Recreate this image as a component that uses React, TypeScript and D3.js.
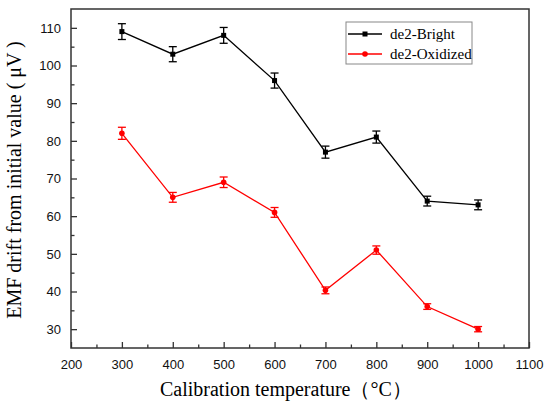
import { useEffect, useRef } from "react";
import * as d3 from "d3";

// Calibration temperatures (°C)
const temperatures = [300, 400, 500, 600, 700, 800, 900, 1000];

// EMF drift from initial value (µV), with error bar half-widths
const brightValues = [109, 103, 108, 96, 77, 81, 64, 63];
const brightErrors = [2.1, 2, 2.1, 2, 1.6, 1.6, 1.3, 1.3];
const oxidizedValues = [82, 65, 69, 61, 40.3, 51, 36, 30];
const oxidizedErrors = [1.6, 1.3, 1.4, 1.3, 0.9, 1.1, 0.75, 0.7];

const xTicks = [200, 300, 400, 500, 600, 700, 800, 900, 1000, 1100];
const yTicks = [30, 40, 50, 60, 70, 80, 90, 100, 110];

const seriesList = [
  { name: "de2-Bright", color: "#000000", values: brightValues, errors: brightErrors, marker: "square" },
  { name: "de2-Oxidized", color: "#ff0000", values: oxidizedValues, errors: oxidizedErrors, marker: "circle" },
];

const W = 550;
const H = 407;
const margin = { top: 9, right: 21, bottom: 59, left: 71 };
const SERIF = "'Liberation Serif', 'Times New Roman', serif";
const SANS = "'Liberation Sans', Arial, sans-serif";

export default function App() {
  const svgRef = useRef<SVGSVGElement | null>(null);

  useEffect(() => {
    if (!svgRef.current) return;
    const svg = d3.select(svgRef.current);
    svg.selectAll("*").remove();

    const width = W - margin.left - margin.right;
    const height = H - margin.top - margin.bottom;

    const x = d3.scaleLinear().domain([200, 1100]).range([0, width]);
    const y = d3.scaleLinear().domain([25, 115]).range([height, 0]);

    const g = svg.append("g").attr("transform", `translate(${margin.left},${margin.top})`);

    // minor ticks
    const xMinor = d3.range(250, 1100, 100);
    const yMinor = d3.range(35, 115, 10);

    const xAxis = g
      .append("g")
      .attr("transform", `translate(0,${height})`)
      .call(d3.axisBottom(x).tickValues(xTicks).tickSize(-6).tickPadding(12).tickFormat(d3.format("d")));
    xAxis.select(".domain").remove();
    xAxis.selectAll("line").attr("stroke", "#333").attr("stroke-width", 1.3);
    xAxis.selectAll("text").attr("font-family", SANS).attr("font-size", 13).attr("fill", "#111");

    g.append("g")
      .attr("transform", `translate(0,${height})`)
      .call(d3.axisBottom(x).tickValues(xMinor).tickSize(-3.5).tickFormat(() => ""))
      .call((a) => a.select(".domain").remove())
      .selectAll("line")
      .attr("stroke", "#333")
      .attr("stroke-width", 1.3);

    const yAxis = g
      .append("g")
      .call(d3.axisLeft(y).tickValues(yTicks).tickSize(-6).tickPadding(10).tickFormat(d3.format("d")));
    yAxis.select(".domain").remove();
    yAxis.selectAll("line").attr("stroke", "#333").attr("stroke-width", 1.3);
    yAxis.selectAll("text").attr("font-family", SANS).attr("font-size", 13).attr("fill", "#111");

    g.append("g")
      .call(d3.axisLeft(y).tickValues(yMinor).tickSize(-3.5).tickFormat(() => ""))
      .call((a) => a.select(".domain").remove())
      .selectAll("line")
      .attr("stroke", "#333")
      .attr("stroke-width", 1.3);

    // frame
    g.append("rect")
      .attr("width", width)
      .attr("height", height)
      .attr("fill", "none")
      .attr("stroke", "#333")
      .attr("stroke-width", 1.5);

    // series
    seriesList.forEach((s) => {
      const pts = temperatures.map((t, i) => ({ t, v: s.values[i], e: s.errors[i] }));
      const line = d3
        .line<{ t: number; v: number }>()
        .x((d) => x(d.t))
        .y((d) => y(d.v));
      g.append("path").datum(pts).attr("d", line).attr("fill", "none").attr("stroke", s.color).attr("stroke-width", 1.3);

      const eb = g.append("g").attr("stroke", s.color).attr("stroke-width", 1.3);
      pts.forEach((d) => {
        const cx = x(d.t);
        eb.append("line").attr("x1", cx).attr("x2", cx).attr("y1", y(d.v - d.e)).attr("y2", y(d.v + d.e));
        eb.append("line").attr("x1", cx - 4).attr("x2", cx + 4).attr("y1", y(d.v - d.e)).attr("y2", y(d.v - d.e));
        eb.append("line").attr("x1", cx - 4).attr("x2", cx + 4).attr("y1", y(d.v + d.e)).attr("y2", y(d.v + d.e));
      });

      if (s.marker === "square") {
        g.selectAll(null)
          .data(pts)
          .join("rect")
          .attr("x", (d) => x(d.t) - 2.5)
          .attr("y", (d) => y(d.v) - 2.5)
          .attr("width", 5)
          .attr("height", 5)
          .attr("fill", s.color);
      } else {
        g.selectAll(null)
          .data(pts)
          .join("circle")
          .attr("cx", (d) => x(d.t))
          .attr("cy", (d) => y(d.v))
          .attr("r", 2.8)
          .attr("fill", s.color);
      }
    });

    // legend
    const lg = svg.append("g").attr("transform", "translate(346,22)");
    lg.append("rect").attr("width", 126).attr("height", 42).attr("fill", "#fff").attr("stroke", "#888").attr("stroke-width", 1);
    seriesList.forEach((s, i) => {
      const ly = 12 + i * 20;
      lg.append("line").attr("x1", 2).attr("x2", 36).attr("y1", ly).attr("y2", ly).attr("stroke", s.color).attr("stroke-width", 1.3);
      if (s.marker === "square") {
        lg.append("rect").attr("x", 16.5).attr("y", ly - 2.5).attr("width", 5).attr("height", 5).attr("fill", s.color);
      } else {
        lg.append("circle").attr("cx", 19).attr("cy", ly).attr("r", 2.8).attr("fill", s.color);
      }
      lg.append("text")
        .attr("x", 44)
        .attr("y", ly + 5)
        .attr("font-family", SERIF)
        .attr("font-size", 15)
        .text(s.name);
    });

    // axis titles
    svg
      .append("text")
      .attr("x", 160)
      .attr("y", 396)
      .attr("font-family", SERIF)
      .attr("font-size", 20)
      .text("Calibration temperature（°C）");

    svg
      .append("text")
      .attr("transform", "translate(21,180) rotate(-90)")
      .attr("text-anchor", "middle")
      .attr("font-family", SERIF)
      .attr("font-size", 20)
      .text("EMF drift from initial value ( μV )");
  }, []);

  return (
    <svg
      ref={svgRef}
      width={W}
      height={H}
      style={{ position: "absolute", left: 0, top: 0, background: "#fff" }}
    />
  );
}
